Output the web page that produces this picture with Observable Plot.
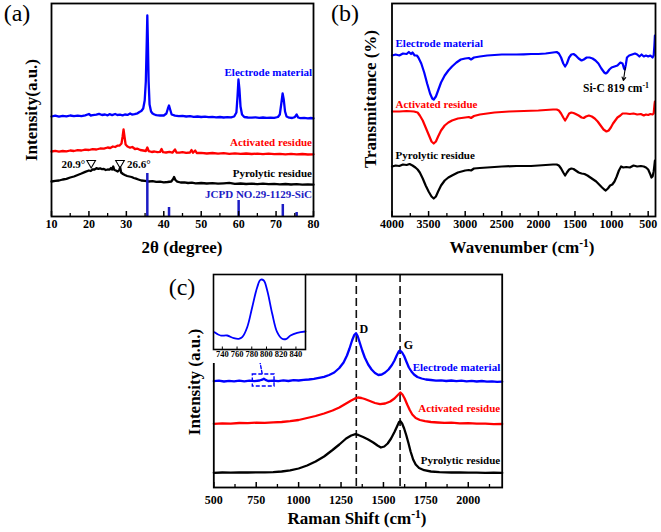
<!DOCTYPE html>
<html><head><meta charset="utf-8">
<script src="https://cdn.jsdelivr.net/npm/d3@7"></script>
<script src="https://cdn.jsdelivr.net/npm/@observablehq/plot@0.6"></script>
<style>
body{margin:0;background:#fff;}
#fig{position:relative;width:661px;height:532px;background:#fff;overflow:hidden;font-family:"Liberation Serif","Times New Roman",serif;}
.p{position:absolute;}
.p svg{display:block;overflow:visible;}
.p svg text{font-family:"Liberation Serif","Times New Roman",serif;}
.t{position:absolute;white-space:nowrap;font-weight:bold;color:#000;transform:translate(-50%,-50%);line-height:1;}
.rot{transform:translate(-50%,-50%) rotate(-90deg);}
.lab{position:absolute;white-space:nowrap;font-weight:normal;color:#000;transform:translate(-50%,-50%);line-height:1;font-size:24px;}
sup{font-size:0.68em;vertical-align:0.5em;line-height:0;}
</style></head><body><div id="fig"></div><script>
// ---------- colours ----------
const BLUE = "#0000ff", RED = "#ff0000", BLACK = "#000000", NAVY = "#1c1cc4";

// ---------- (a) XRD ----------
const xrdTicks = [10, 20, 30, 40, 50, 60, 70, 80];
const xrdMinor = [15, 25, 35, 45, 55, 65, 75];
const xrdElectrode = [[10,100],[11,100.8],[12,99.8],[13,100.6],[14,100.2],[15,101],[16,100.3],[17,100.9],[18,100.4],[19,101.2],[20,102.5],[20.5,101],[21,101.3],[22,101.8],[22.7,102.6],[23.5,101.5],[24.3,102],[25,101.2],[25.5,102.3],[26.2,101.4],[27,102.5],[27.6,101.5],[28.3,101.8],[29,101.2],[29.6,102],[30.3,101.6],[31,103],[31.5,102],[32.2,102.4],[33,103.2],[33.5,104.5],[34,105.5],[34.5,108],[34.9,116],[35.2,135],[35.45,175],[35.6,201],[35.75,175],[35.95,135],[36.2,112],[36.6,105],[37,103],[37.5,102],[38,101.3],[39,101],[40,101],[40.7,103],[41.1,108],[41.4,111],[41.7,107],[42.1,102],[43,100.8],[44,100.3],[45,100.6],[46,100],[47,100.3],[48,99.6],[49,100],[50,99.5],[51,99.8],[52,99.3],[53,99.6],[54,99.2],[55,99.5],[56,99],[57,99.3],[58,99.2],[58.8,100],[59.4,104],[59.7,120],[59.95,137],[60.2,128],[60.5,110],[60.9,102],[61.5,99.5],[62.5,99],[63.5,98.8],[64.5,99.2],[65.5,98.7],[66.5,99],[67.5,98.6],[68.5,98.9],[69.5,98.7],[70.5,99.5],[71,102],[71.4,113],[71.75,123],[72.05,117],[72.4,105],[72.8,100],[73.5,98.8],[74.3,98.5],[75,99.3],[75.5,102],[75.9,99],[76.5,98.4],[77.5,98.7],[78.5,98.2],[79.3,98.5],[80,98.2]];
const xrdActivated = [[10,65],[11,65.6],[12,64.8],[13,65.5],[14,65.2],[15,66],[16,65.5],[17,66.3],[18,66],[19,66.8],[20,66.5],[21,67.3],[22,67],[23,68],[24,67.8],[25,69],[25.7,68.5],[26.4,70],[27,69.5],[27.6,70.8],[28.2,71],[28.7,73],[29,80],[29.25,87],[29.5,80],[29.8,72],[30.3,70],[31,68.8],[31.6,69.5],[32.3,67.5],[33,67.8],[33.7,66.5],[34.5,66],[35.2,65.5],[35.6,69],[36,65.3],[36.8,64.5],[37.5,65],[38.3,64.3],[39,64.6],[39.4,67.5],[39.8,64.3],[40.6,64],[41.5,64.6],[42.3,63.8],[43,67],[43.4,64],[44.2,63.9],[45,64.4],[46,63.6],[47,64],[47.4,66.5],[47.8,63.8],[48.4,66],[48.8,63.5],[50,63.6],[51.5,63],[53,63.5],[54.5,62.8],[56,63.3],[57.5,62.7],[59,63.1],[60.5,62.6],[62,63],[63.5,62.5],[65,62.9],[66.5,62.4],[68,62.8],[69.5,62.3],[71,62.7],[72.5,62.2],[74,62.6],[75.5,62.1],[77,62.5],[78.5,62],[80,62.2]];
const xrdPyrolytic = [[10,35],[11,35.6],[12,36],[13,37],[14,37.6],[15,39],[16,40],[17,41.5],[18,43],[19,44.6],[20,46],[20.5,45.5],[21,47.2],[21.5,47],[22,48.3],[22.5,47.6],[23,48.2],[23.5,47.3],[24,47.5],[24.5,46.5],[25,47],[25.5,46.8],[25.9,48.5],[26.2,47],[26.5,50],[26.8,46.5],[27.2,46],[27.7,45],[28.1,46.5],[28.35,49],[28.6,44],[29.1,42.5],[29.6,41.5],[30.2,40.5],[30.8,40],[31.4,39.5],[32,38.5],[32.6,37.8],[33.2,37],[34,36],[35,35.6],[36,35],[37,35.3],[38,34.6],[39,34.8],[40,34.2],[41,34.5],[42,35],[42.5,37.5],[42.75,39.5],[43.1,36.5],[43.6,34.8],[44.5,34],[45.5,34.2],[46.5,33.5],[47.5,33.8],[48.5,33.2],[50,33.5],[51.5,33],[53,33.3],[54.5,32.8],[56,33.2],[57.5,33.6],[59,32.7],[60.5,33],[62,32.5],[63.5,32.9],[65,32.4],[66.5,32.8],[68,32.3],[69.5,32.7],[71,32.2],[72.5,32.5],[74,32],[75.5,32.4],[77,31.9],[78.5,32.2],[80,31.8]];
const sicRef = [[35.6,43],[41.4,9],[60.0,16],[71.8,12],[75.5,4]];
const xrdMarkers = [[20.6,53.5],[28.3,53.5]];
const xrdMarkerText = ["20.9°","26.6°"];
const xrdLabels = [
  {x:80, y:144, text:"Electrode material", color:BLUE},
  {x:80, y:74, text:"Activated residue", color:RED},
  {x:80, y:43, text:"Pyrolytic residue", color:BLACK},
  {x:80, y:22, text:"JCPD NO.29-1129-SiC", color:NAVY}
];

// ---------- (b) FTIR ----------
const ftirTicks = [4000, 3500, 3000, 2500, 2000, 1500, 1000, 500];
const ftirMinor = [3750, 3250, 2750, 2250, 1750, 1250, 750];
const ftirElectrode = [[4000,161],[3950,162],[3900,161],[3850,163],[3800,162.5],[3770,164.5],[3740,162.5],[3720,164],[3690,161],[3660,161],[3640,159],[3600,153],[3560,144],[3520,133],[3480,123],[3450,118],[3430,117],[3400,120],[3370,126],[3330,134],[3280,141],[3230,146],[3180,150],[3120,154],[3060,157],[3000,158],[2950,158.5],[2920,157],[2880,159],[2800,160],[2700,161],[2600,161.5],[2500,162],[2400,162],[2300,162],[2200,162.2],[2100,162.5],[2000,162.5],[1900,163],[1800,164],[1750,164.5],[1720,163],[1690,159],[1660,153],[1635,150],[1610,153],[1580,159],[1550,162],[1520,162.5],[1490,161],[1450,158],[1410,156],[1380,157],[1340,159],[1300,159],[1260,158],[1220,156],[1180,153],[1140,148],[1100,144],[1080,143],[1060,144],[1030,147],[1000,149],[960,150],[920,151],[880,154],[850,153],[830,148],[819,147],[805,152],[790,159],[760,161],[720,162],[680,163],[650,162],[620,160],[590,162],[560,160],[530,161],[500,160],[470,161],[440,159],[425,161],[415,171],[408,181]];
const ftirActivated = [[4000,105],[3900,105],[3800,105.5],[3700,105],[3650,104],[3620,101],[3580,96],[3540,89],[3500,82],[3460,75],[3430,73],[3400,75],[3370,80],[3330,86],[3280,91],[3230,94],[3180,96],[3100,98],[3000,99],[2950,99.5],[2920,98.5],[2880,100.5],[2800,102],[2700,103],[2600,104],[2500,104.5],[2400,105],[2200,105.5],[2000,106],[1800,107],[1750,107],[1720,106],[1690,103],[1660,99],[1635,96],[1610,99],[1580,103],[1550,104],[1520,103.5],[1490,102.5],[1450,101],[1410,99],[1380,98.5],[1350,100],[1310,101],[1270,100],[1230,98],[1190,95],[1150,91],[1110,87],[1070,85],[1040,86],[1010,89],[980,93],[950,96],[920,99],[880,101],[850,103],[800,103],[750,102.5],[700,103],[650,102],[600,102.5],[560,101],[530,102],[500,101.5],[470,102.5],[440,102],[425,103],[415,111],[408,115]];
const ftirPyrolytic = [[4000,50],[3950,51],[3900,50.5],[3850,52],[3800,51.5],[3760,52.5],[3720,51],[3680,49],[3650,47],[3620,44],[3580,38],[3540,31],[3500,25],[3460,20],[3430,18],[3400,20],[3370,25],[3330,31],[3280,36],[3230,39],[3180,41],[3100,44],[3000,46],[2950,46.5],[2920,46],[2880,48],[2800,48.5],[2700,49],[2600,49.5],[2500,50],[2300,50.5],[2100,50.5],[2000,51],[1800,52],[1750,52],[1720,51],[1690,48],[1660,44],[1635,41],[1610,44],[1580,47],[1550,48],[1520,47.5],[1490,46],[1450,44],[1410,43],[1370,42.5],[1330,41],[1290,39],[1250,37],[1210,35],[1170,32],[1130,29],[1100,27],[1080,26],[1050,28],[1020,31],[990,32],[960,35],[930,40],[900,46],[870,50],[840,49],[800,49.5],[750,49],[700,51],[650,50],[600,50.5],[560,50],[530,49],[500,47],[470,42],[455,39],[440,40],[425,45],[415,51],[408,56]];
const ftirLabels = [
  {x:3952, y:173, text:"Electrode material", color:BLUE},
  {x:3952, y:112, text:"Activated residue", color:RED},
  {x:3952, y:61, text:"Pyrolytic residue", color:BLACK}
];
const siCArrow = [{x1:812, y1:149, x2:838, y2:136}];

// ---------- (c) Raman ----------
const ramanTicks = [500, 750, 1000, 1250, 1500, 1750, 2000];
const ramanMinor = [625, 875, 1125, 1375, 1625, 1875, 2125];
const ramanElectrode = [[500,106.3],[530,106.8],[560,106],[590,106.7],[620,106.1],[650,106.9],[680,106.2],[710,106.8],[740,106.3],[770,107],[785,107.8],[795,108.8],[805,107.6],[820,106.5],[850,106.9],[880,106.3],[910,107.1],[940,106.5],[970,107.3],[1000,107],[1030,107.6],[1060,108],[1090,108.6],[1120,109.6],[1150,110.6],[1180,112.5],[1210,115],[1240,119.5],[1265,125],[1285,132],[1300,139],[1315,147],[1328,152.5],[1338,154.3],[1348,151.5],[1360,145],[1375,137],[1390,130],[1410,123],[1430,118],[1450,114.5],[1470,112.5],[1490,113],[1510,115],[1530,118],[1550,122.5],[1565,127],[1578,132],[1590,136],[1598,137],[1610,135],[1622,131.5],[1635,126],[1650,120],[1665,116],[1680,113],[1700,110.5],[1725,109],[1750,108],[1780,107.5],[1810,106.8],[1840,107.2],[1870,106.5],[1900,107],[1930,106.3],[1960,106.8],[1990,106.2],[2020,106.6],[2050,106],[2080,106.5],[2110,105.8],[2140,106.2],[2170,105.6],[2200,105.9]];
const ramanActivated = [[500,63.7],[550,64.2],[600,63.9],[650,64.5],[700,64.3],[750,64.8],[800,64.6],[850,65.2],[900,65.5],[950,66.3],[1000,67.5],[1050,69.5],[1100,71.5],[1150,74],[1200,77],[1240,80],[1280,84],[1310,87],[1330,88.8],[1350,90],[1370,89.5],[1390,88.5],[1420,86.5],[1450,84.5],[1480,83.3],[1510,84],[1540,86],[1565,89],[1585,92.5],[1600,95],[1612,93],[1625,89],[1640,83],[1655,77.5],[1670,73],[1690,69.5],[1715,67.5],[1745,66.3],[1780,65.5],[1820,65],[1860,64.6],[1900,64.8],[1950,64.2],[2000,64.4],[2050,63.8],[2100,63.9],[2150,63.3],[2200,63.5]];
const ramanPyrolytic = [[500,14.7],[550,15],[600,14.8],[650,15.1],[700,15],[750,15.2],[800,15.1],[850,15.4],[900,16],[950,17.2],[1000,19],[1050,22],[1100,26],[1150,31],[1200,37.5],[1240,43],[1280,49],[1310,52],[1335,53.3],[1355,52.3],[1380,50.5],[1410,48],[1440,45],[1465,42],[1485,40],[1505,41],[1525,44],[1545,49],[1565,55.5],[1580,61],[1592,65.5],[1600,66.3],[1610,64],[1622,59],[1635,52],[1648,44],[1660,36],[1675,28],[1690,23],[1710,19.5],[1740,17.3],[1780,16],[1830,15.3],[1900,15],[1950,15.1],[2000,14.8],[2050,14.9],[2100,14.6],[2150,14.8],[2200,14.6]];
const ramanBands = [1340, 1598];
const ramanBandNames = [{x:1384, y:158.5, text:"D"},{x:1647, y:142, text:"G"}];
const ramanLabels = [
  {x:2200, y:119.7, text:"Electrode material", color:BLUE},
  {x:2200, y:78.7, text:"Activated residue", color:RED},
  {x:2200, y:27, text:"Pyrolytic residue", color:BLACK}
];
const zoomBox = [{x1:730, x2:858, y1:101, y2:113}];
const zoomArrow = [{x1:785, y1:114, x2:766, y2:131}];

// ---------- (c) inset ----------
const insetTicks = [740, 760, 780, 800, 820, 840];
const insetPeak = [[729.4,17.3],[737.5,14],[746.6,14],[755.6,11.3],[762.4,10.7],[767,12.3],[773.8,22.3],[780.6,42.3],[787.4,62.3],[791.9,69.7],[796.3,69],[801,59],[807.8,35.7],[814.5,17.3],[821.3,10.7],[827.2,10.7],[832.6,14],[841.7,16.7],[853,18]];

// ---------- helpers ----------
const fig = document.getElementById("fig");
const SERIF = '"Liberation Serif", "Times New Roman", serif';
const baseStyle = {fontFamily: SERIF, fontWeight:"bold", fontSize:"12px", background:"transparent", overflow:"visible", color:"#000"};
function place(node, left, top) {
  const d = document.createElement("div");
  d.className = "p"; d.style.left = left + "px"; d.style.top = top + "px";
  d.appendChild(node); fig.appendChild(d);
}
function txt(html, x, y, size, cls, color, anchorLeft) {
  const d = document.createElement("div");
  d.className = cls || "t";
  d.innerHTML = html;
  d.style.left = x + "px"; d.style.top = y + "px";
  d.style.fontSize = size + "px";
  if (color) d.style.color = color;
  if (anchorLeft) d.style.transform = "translate(0,-50%)";
  fig.appendChild(d);
}
const X = d => d[0], Y = d => d[1];

// ---------- panel (a) ----------
place(Plot.plot({
  width: 330, height: 260, marginLeft: 51, marginRight: 17, marginTop: 3, marginBottom: 44,
  x: {domain: [10, 80]}, y: {domain: [0, 213], axis: null}, color: {type: "identity"},
  style: baseStyle,
  marks: [
    Plot.line(xrdPyrolytic, {x: X, y: Y, stroke: BLACK, strokeWidth: 2.3}),
    Plot.line(xrdActivated, {x: X, y: Y, stroke: RED, strokeWidth: 2.3}),
    Plot.line(xrdElectrode, {x: X, y: Y, stroke: BLUE, strokeWidth: 2.3}),
    Plot.ruleX(sicRef, {x: X, y1: 0, y2: Y, stroke: NAVY, strokeWidth: 2.5}),
    Plot.dot(xrdMarkers, {x: X, y: Y, symbol: "triangle", rotate: 180, r: 3.2, stroke: BLACK, strokeWidth: 1.1, fill: "none"}),
    Plot.text([xrdMarkers[0]], {x: X, y: Y, text: () => xrdMarkerText[0], textAnchor: "end", dx: -6, dy: 1, fontSize: 11, fontWeight: "bold"}),
    Plot.text([xrdMarkers[1]], {x: X, y: Y, text: () => xrdMarkerText[1], textAnchor: "start", dx: 7, dy: 1, fontSize: 11, fontWeight: "bold"}),
    Plot.text(xrdLabels, {x: "x", y: "y", text: "text", fill: "color", textAnchor: "end", dx: -1.5, fontSize: 11, fontWeight: "bold"}),
    Plot.ruleX(xrdMinor, {x: d => d, y1: 0, y2: 3, stroke: BLACK, strokeWidth: 1.3}),
    Plot.ruleX(xrdTicks, {x: d => d, y1: 0, y2: 5, stroke: BLACK, strokeWidth: 1.5}),
    Plot.axisX({ticks: xrdTicks, tickSize: 0, tickPadding: 3, label: null, tickFormat: d => String(d), fontSize: 12, fontWeight: "bold", fontFamily: SERIF}),
    Plot.frame({stroke: BLACK, strokeWidth: 1.8})
  ]
}), 0, 0);

// ---------- panel (b) ----------
place(Plot.plot({
  width: 331, height: 260, marginLeft: 61.5, marginRight: 6, marginTop: 3, marginBottom: 44,
  x: {domain: [4000, 400]}, y: {domain: [0, 213], axis: null}, color: {type: "identity"},
  style: baseStyle,
  marks: [
    Plot.line(ftirPyrolytic, {x: X, y: Y, stroke: BLACK, strokeWidth: 2.2}),
    Plot.line(ftirActivated, {x: X, y: Y, stroke: RED, strokeWidth: 2.2}),
    Plot.line(ftirElectrode, {x: X, y: Y, stroke: BLUE, strokeWidth: 2.2}),
    Plot.arrow(siCArrow, {x1: "x1", y1: "y1", x2: "x2", y2: "y2", stroke: BLACK, strokeWidth: 1.1, headLength: 5}),
    Plot.text(ftirLabels, {x: "x", y: "y", text: "text", fill: "color", textAnchor: "start", fontSize: 11, fontWeight: "bold"}),
    Plot.ruleX(ftirMinor, {x: d => d, y1: 0, y2: 3, stroke: BLACK, strokeWidth: 1.3}),
    Plot.ruleX(ftirTicks, {x: d => d, y1: 0, y2: 5, stroke: BLACK, strokeWidth: 1.5}),
    Plot.axisX({ticks: ftirTicks, tickSize: 0, tickPadding: 3, label: null, tickFormat: d => String(d), fontSize: 12, fontWeight: "bold", fontFamily: SERIF}),
    Plot.frame({stroke: BLACK, strokeWidth: 1.8})
  ]
}), 330, 0);

// ---------- panel (c) ----------
place(Plot.plot({
  width: 360, height: 272, marginLeft: 53.3, marginRight: 18.3, marginTop: 14, marginBottom: 45,
  x: {domain: [500, 2200]}, y: {domain: [0, 213], axis: null}, color: {type: "identity"},
  style: baseStyle,
  marks: [
    Plot.ruleX(ramanBands, {x: d => d, stroke: "#111", strokeWidth: 1.6, strokeDasharray: "8,4"}),
    Plot.line(ramanPyrolytic, {x: X, y: Y, stroke: BLACK, strokeWidth: 2.3}),
    Plot.line(ramanActivated, {x: X, y: Y, stroke: RED, strokeWidth: 2.3}),
    Plot.line(ramanElectrode, {x: X, y: Y, stroke: BLUE, strokeWidth: 2.3}),
    Plot.rect(zoomBox, {x1: "x1", x2: "x2", y1: "y1", y2: "y2", fill: "none", stroke: BLUE, strokeWidth: 1.4, strokeDasharray: "4,2"}),
    Plot.arrow(zoomArrow, {x1: "x1", y1: "y1", x2: "x2", y2: "y2", stroke: BLUE, strokeWidth: 1.4, strokeDasharray: "3,2", headLength: 6}),
    Plot.text(ramanBandNames, {x: "x", y: "y", text: "text", fontSize: 12, fontWeight: "bold"}),
    Plot.text(ramanLabels, {x: "x", y: "y", text: "text", fill: "color", textAnchor: "end", dx: -2, fontSize: 11, fontWeight: "bold"}),
    Plot.ruleX(ramanMinor, {x: d => d, y1: 0, y2: 3, stroke: BLACK, strokeWidth: 1.3}),
    Plot.ruleX(ramanTicks, {x: d => d, y1: 0, y2: 5, stroke: BLACK, strokeWidth: 1.5}),
    Plot.axisX({ticks: ramanTicks, tickSize: 0, tickPadding: 8, label: null, tickFormat: d => String(d), fontSize: 12, fontWeight: "bold", fontFamily: SERIF}),
    Plot.frame({stroke: BLACK, strokeWidth: 1.8})
  ]
}), 160, 260);

// ---------- inset ----------
place(Plot.plot({
  width: 94, height: 90, marginLeft: 1, marginRight: 1, marginTop: 1, marginBottom: 14,
  x: {domain: [728, 853]}, y: {domain: [0, 75], axis: null},
  style: Object.assign({}, baseStyle, {fontSize: "9px", background: "#fff"}),
  marks: [
    Plot.line(insetPeak, {x: X, y: Y, stroke: BLUE, strokeWidth: 1.8, curve: "catmull-rom"}),
    Plot.ruleX(insetTicks, {x: d => d, y1: 0, y2: 2.5, stroke: BLACK, strokeWidth: 1}),
    Plot.axisX({ticks: insetTicks, tickSize: 0, tickPadding: 1.5, label: null, tickFormat: d => String(d), fontSize: 8.5, fontWeight: "bold", fontFamily: SERIF}),
    Plot.frame({stroke: BLACK, strokeWidth: 1.6})
  ]
}), 212, 273);

// ---------- titles & panel letters ----------
txt("(a)", 17, 13, 24, "lab");
txt("(b)", 345, 13, 24, "lab");
txt("(c)", 182, 287, 24, "lab");
txt("2θ (degree)", 182, 247, 17);
txt("Wavenumber (cm<sup>-1</sup>)", 522, 247, 17);
txt("Raman Shift (cm<sup>-1</sup>)", 357, 518, 17);
txt("Intensity(a.u.)", 31, 110, 17, "t rot");
txt("Transmittance (%)", 370, 99, 17, "t rot");
txt("Intensity (a.u.)", 194, 382, 17, "t rot");
txt("Si-C 819 cm<sup>-1</sup>", 583, 89, 11.5, "t", BLACK, true);
</script></body></html>
